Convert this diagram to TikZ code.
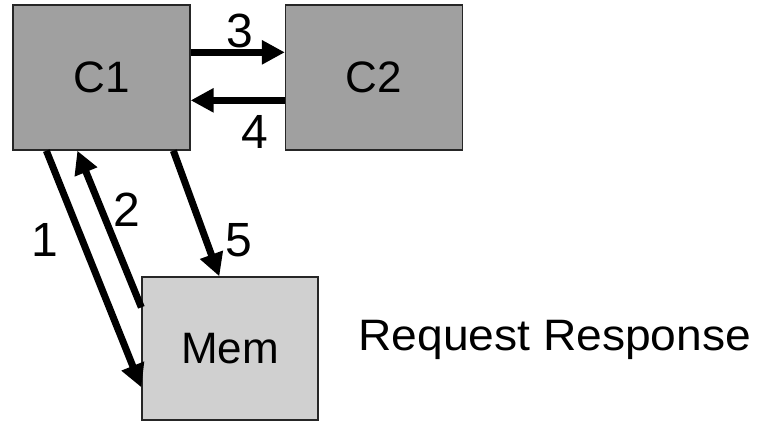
\documentclass[tikz,border=0pt]{standalone}
\usepackage{fontspec}
\setmainfont{Liberation Sans}
\usetikzlibrary{arrows.meta}

\definecolor{cachegray}{RGB}{160,160,160}
\definecolor{memgray}{RGB}{208,208,208}

\def\ux{0.75pt}
\def\uy{-0.75pt}

\begin{document}
\begin{tikzpicture}[x=\ux,y=\uy, font=\fontsize{33}{36}\selectfont]
		\tikzset{
			unit/.style={fill=#1, draw=black!85, line width=1pt, rectangle, inner sep=0pt},
			cache/.style={unit=cachegray, minimum width=177*\ux, minimum height=145*\ux},
			mem/.style={unit=memgray, minimum width=176*\ux, minimum height=143*\ux},
			msg/.style={line width=7*\ux, -{Triangle[length=23*\ux, width=23*\ux]}},
			lbl/.style={inner sep=0pt, font=\fontsize{36}{40}\selectfont},
		}
		\useasboundingbox (0,0) rectangle (767,422);

		\node[cache] (c1) at (101.5, 77.5) {C1};
		\node[cache] (c2) at (374, 77.5) {C2};
		\node[mem] (mem) at (230, 348.5) {Mem};

		\draw[msg] ([yshift=48*\uy]c1.north east) -- ([yshift=48*\uy]c2.north west);
		\draw[msg] ([yshift=96*\uy]c2.north west) -- ([yshift=96*\uy]c1.north east);

		\draw[msg] ([xshift=34*\ux]c1.south west) -- ([yshift=111*\uy]mem.north west);
		\draw[msg] ([yshift=31*\uy]mem.north west) -- ([xshift=65*\ux]c1.south west);
		\draw[msg] ([xshift=161*\ux]c1.south west) -- ([xshift=78*\ux]mem.north west);

		\node[lbl] (n1) at (45, 240) {1};
		\node[lbl] (n2) at (127, 210) {2};
		\node[lbl] (n3) at (240, 31) {3};
		\node[lbl] (n4) at (255, 132) {4};
		\node[lbl] (n5) at (239, 240) {5};

		\node[inner sep=0pt, anchor=base west] (reqresp) at (358, 350) {\scalebox{1.05}[1]{Request Response}};
\end{tikzpicture}
\end{document}
